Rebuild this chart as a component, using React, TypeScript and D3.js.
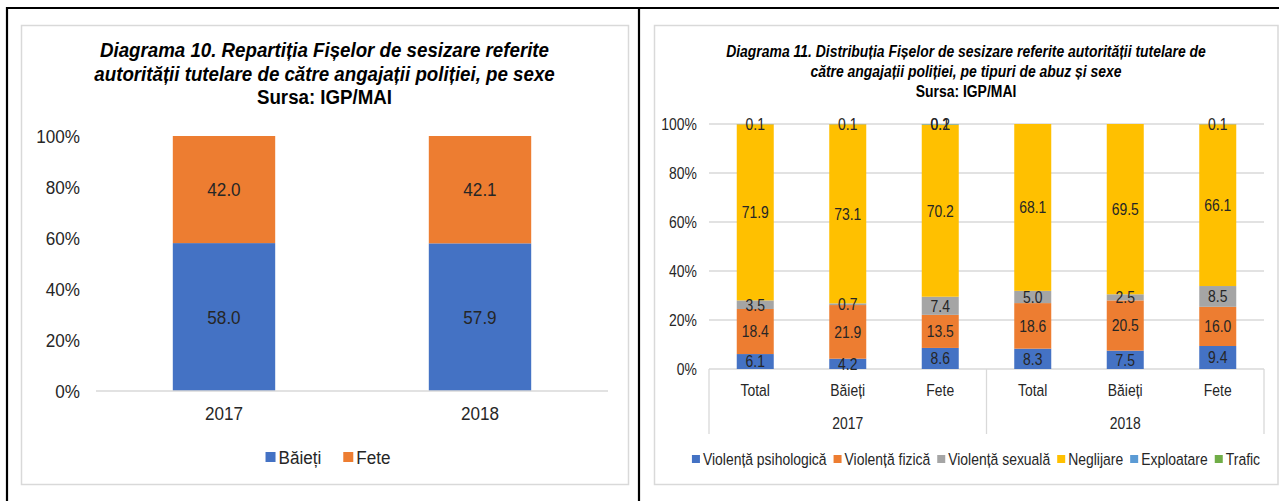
import React, { useEffect, useRef } from 'react';
import * as d3 from 'd3';

// ---------- Data: Diagrama 10 ----------
const leftYears = ['2017', '2018'];
const leftSeries = ['Băieți', 'Fete'];
const leftBoys = [58.0, 57.9];
const leftGirls = [42.0, 42.1];
const leftTitle = [
  'Diagrama 10. Repartiția Fișelor de sesizare referite',
  'autorității tutelare de către angajații poliției, pe sexe',
];
const sourceText = 'Sursa: IGP/MAI';

// ---------- Data: Diagrama 11 ----------
const rightYears = ['2017', '2018'];
const rightCategories = ['Total', 'Băieți', 'Fete'];
const rightSeries = ['Violență psihologică', 'Violență fizică', 'Violență sexuală', 'Neglijare', 'Exploatare', 'Trafic'];
const psihologica = [6.1, 4.2, 8.6, 8.3, 7.5, 9.4];
const fizica = [18.4, 21.9, 13.5, 18.6, 20.5, 16.0];
const sexuala = [3.5, 0.7, 7.4, 5.0, 2.5, 8.5];
const neglijare = [71.9, 73.1, 70.2, 68.1, 69.5, 66.1];
const exploatare = [0.1, 0.1, 0.2, 0, 0, 0.1];
const trafic = [0, 0, 0.1, 0, 0, 0];
const rightTitle = [
  'Diagrama 11. Distribuția Fișelor de sesizare referite autorității tutelare de',
  'către angajații poliției, pe tipuri de abuz și sexe',
];

const yTicks = [0, 20, 40, 60, 80, 100];

const COLORS = ['#4472C4', '#ED7D31', '#A5A5A5', '#FFC000', '#5B9BD5', '#70AD47'];
const GRID = '#D9D9D9';
const TEXT = '#262626';
const FONT = "'Liberation Sans', Arial, sans-serif";

type TOpts = { size: number; sx: number; anchor?: string; weight?: string; style?: string; fill?: string };

function txt(g: any, x: number, y: number, s: string, o: TOpts) {
  return g.append('text')
    .attr('transform', `translate(${x},${y}) scale(${o.sx},1)`)
    .attr('dy', '0.35em')
    .attr('text-anchor', o.anchor || 'middle')
    .attr('font-size', o.size)
    .attr('font-weight', o.weight || 'normal')
    .attr('font-style', o.style || 'normal')
    .attr('fill', o.fill || TEXT)
    .text(s);
}

export default function App() {
  const ref = useRef<SVGSVGElement>(null);

  useEffect(() => {
    const svg = d3.select(ref.current);
    svg.selectAll('*').remove();
    svg.attr('font-family', FONT);

    svg.append('rect').attr('width', 1279).attr('height', 501).attr('fill', '#fff');

    // chart boxes
    svg.append('rect').attr('x', 21.5).attr('y', 25.5).attr('width', 607).attr('height', 459)
      .attr('fill', '#fff').attr('stroke', GRID).attr('stroke-width', 1.5);
    svg.append('rect').attr('x', 654.5).attr('y', 25.5).attr('width', 623.5).attr('height', 459)
      .attr('fill', '#fff').attr('stroke', GRID).attr('stroke-width', 1.5);

    // black table frame
    const frame = svg.append('g').attr('stroke', '#000').attr('stroke-width', 2.2);
    frame.append('line').attr('x1', 6).attr('x2', 1279).attr('y1', 8).attr('y2', 8);
    frame.append('line').attr('x1', 7).attr('x2', 7).attr('y1', 7).attr('y2', 501);
    frame.append('line').attr('x1', 639).attr('x2', 639).attr('y1', 7).attr('y2', 501);

    // ================= LEFT CHART =================
    {
      const g = svg.append('g');
      const SX = 0.9;
      const cx = 324.5;
      leftTitle.forEach((t, i) => {
        txt(g, cx, 50 + i * 23.5, t, { size: 20.8, sx: SX, weight: 'bold', style: 'italic', fill: '#000' });
      });
      txt(g, cx, 97, sourceText, { size: 20.8, sx: SX, weight: 'bold', fill: '#000' });

      const x = d3.scaleBand<string>().domain(leftYears).range([96, 608]).paddingInner(0.6).paddingOuter(0.3);
      const y = d3.scaleLinear().domain([0, 100]).range([391, 136]);

      yTicks.forEach((t) => {
        txt(g, 80, y(t), `${t}%`, { size: 19, sx: SX, anchor: 'end' });
      });

      const rows = leftYears.map((yr, i) => ({ yr, 'Băieți': leftBoys[i], Fete: leftGirls[i] }));
      const layers = d3.stack<any>().keys(leftSeries).offset(d3.stackOffsetExpand)(rows);
      layers.forEach((layer, li) => {
        layer.forEach((d: any) => {
          const y0 = y(d[0] * 100), y1 = y(d[1] * 100);
          g.append('rect').attr('x', x(d.data.yr)!).attr('width', x.bandwidth())
            .attr('y', y1).attr('height', y0 - y1).attr('fill', COLORS[li]);
          const v = d.data[leftSeries[li]];
          txt(g, x(d.data.yr)! + x.bandwidth() / 2, (y0 + y1) / 2, d3.format('.1f')(v), { size: 19, sx: SX });
        });
      });

      g.append('line').attr('x1', 96).attr('x2', 608).attr('y1', y(0)).attr('y2', y(0))
        .attr('stroke', GRID).attr('stroke-width', 1.3);

      leftYears.forEach((yr) => {
        txt(g, x(yr)! + x.bandwidth() / 2, 413, yr, { size: 19, sx: SX });
      });

      // legend
      const lg = g.append('g');
      let lx = 0;
      leftSeries.forEach((s, i) => {
        lg.append('rect').attr('x', lx).attr('y', 452).attr('width', 10).attr('height', 10).attr('fill', COLORS[i]);
        const t = txt(lg, lx + 13, 457, s, { size: 19, sx: SX, anchor: 'start' });
        const w = (t.node() as SVGTextElement).getComputedTextLength() * SX;
        lx += 13 + w + 22;
      });
      const total = lx - 22;
      lg.attr('transform', `translate(${328 - total / 2},0)`);
    }

    // ================= RIGHT CHART =================
    {
      const g = svg.append('g');
      const SX = 0.82;
      const FS = 17;
      const cx = 966;
      rightTitle.forEach((t, i) => {
        txt(g, cx, 51 + i * 20.5, t, { size: FS, sx: SX, weight: 'bold', style: 'italic', fill: '#000' });
      });
      txt(g, cx, 91, sourceText, { size: FS, sx: SX, weight: 'bold', fill: '#000' });

      const keys = rightYears.flatMap((yr) => rightCategories.map((c) => `${yr}|${c}`));
      const x = d3.scaleBand<string>().domain(keys).range([709, 1264]).paddingInner(0.6).paddingOuter(0.3);
      const y = d3.scaleLinear().domain([0, 100]).range([369, 124]);

      yTicks.forEach((t) => {
        g.append('line').attr('x1', 709).attr('x2', 1264).attr('y1', y(t)).attr('y2', y(t))
          .attr('stroke', GRID).attr('stroke-width', 1.3);
        txt(g, 697, y(t), `${t}%`, { size: FS, sx: SX, anchor: 'end' });
      });

      const seriesVals = [psihologica, fizica, sexuala, neglijare, exploatare, trafic];
      const rows = keys.map((k, i) => {
        const r: any = { k };
        rightSeries.forEach((s, si) => { r[s] = seriesVals[si][i]; });
        return r;
      });
      const layers = d3.stack<any>().keys(rightSeries).offset(d3.stackOffsetExpand)(rows);
      const labels: { x: number; y: number; v: number }[] = [];
      layers.forEach((layer, li) => {
        layer.forEach((d: any) => {
          const y0 = y(d[0] * 100), y1 = y(d[1] * 100);
          const v = d.data[rightSeries[li]];
          if (v <= 0) return;
          g.append('rect').attr('x', x(d.data.k)!).attr('width', x.bandwidth())
            .attr('y', y1).attr('height', Math.max(0, y0 - y1)).attr('fill', COLORS[li]);
          labels.push({ x: x(d.data.k)! + x.bandwidth() / 2, y: (y0 + y1) / 2, v });
        });
      });
      labels.forEach((l) => {
        txt(g, l.x, l.y, d3.format('.1f')(l.v), { size: FS, sx: SX });
      });

      // multi-level category axis
      const groupW = (1264 - 709) / rightYears.length;
      for (let i = 0; i <= rightYears.length; i++) {
        const gx = 709 + i * groupW;
        g.append('line').attr('x1', gx).attr('x2', gx).attr('y1', y(0)).attr('y2', 434)
          .attr('stroke', GRID).attr('stroke-width', 1.3);
      }
      keys.forEach((k) => {
        txt(g, x(k)! + x.bandwidth() / 2, 390, k.split('|')[1], { size: FS, sx: SX });
      });
      rightYears.forEach((yr, i) => {
        txt(g, 709 + (i + 0.5) * groupW, 423, yr, { size: FS, sx: SX });
      });

      // legend
      const lg = g.append('g');
      let lx = 0;
      rightSeries.forEach((s, i) => {
        lg.append('rect').attr('x', lx).attr('y', 455).attr('width', 8).attr('height', 8).attr('fill', COLORS[i]);
        const t = txt(lg, lx + 11, 459, s, { size: FS, sx: SX, anchor: 'start' });
        const w = (t.node() as SVGTextElement).getComputedTextLength() * SX;
        lx += 11 + w + 7;
      });
      const total = lx - 7;
      lg.attr('transform', `translate(${976 - total / 2},0)`);
    }
  }, []);

  return (
    <svg ref={ref} width={1279} height={501}
      style={{ position: 'absolute', left: 0, top: 0, display: 'block' }} />
  );
}
